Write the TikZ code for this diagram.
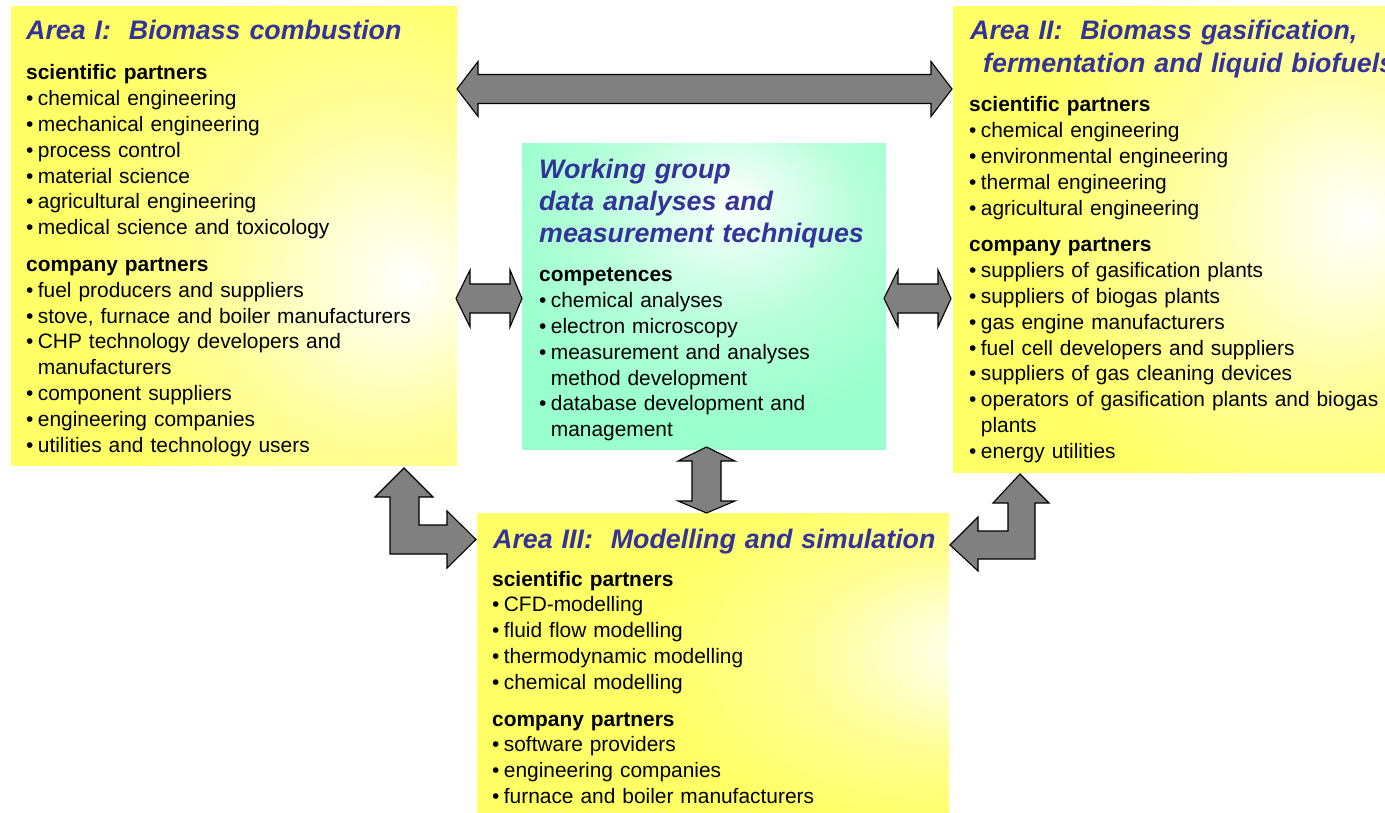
\documentclass[tikz,border=0pt]{standalone}
\usepackage{fontspec}
\setmainfont{Liberation Sans}
\definecolor{yel}{HTML}{FFFF66}
\definecolor{aqua}{HTML}{99FFCC}
\definecolor{titleblue}{HTML}{333399}
\definecolor{arrgray}{HTML}{808080}
\newcommand\bitem{•\hspace{4.4pt}}
\newcommand\bindent{\hphantom{•}\hspace{4.4pt}}
\pgfdeclareradialshading{glowI}{\pgfpoint{20bp}{-5bp}}{color(0bp)=(white); color(6bp)=(white!80!yel); color(18bp)=(white!35!yel); color(32bp)=(yel); color(100bp)=(yel)}
\pgfdeclareradialshading{glowII}{\pgfpoint{22bp}{2bp}}{color(0bp)=(white); color(6bp)=(white!80!yel); color(18bp)=(white!35!yel); color(32bp)=(yel); color(100bp)=(yel)}
\pgfdeclareradialshading{glowC}{\pgfpoint{4bp}{16bp}}{color(0bp)=(white); color(6bp)=(white!75!aqua); color(18bp)=(white!30!aqua); color(32bp)=(aqua); color(100bp)=(aqua)}
\pgfdeclareradialshading{glowIII}{\pgfpoint{30bp}{2bp}}{color(0bp)=(white); color(6bp)=(white!75!yel); color(16bp)=(white!30!yel); color(28bp)=(yel); color(100bp)=(yel)}
\begin{document}
\begin{tikzpicture}[x={(1pt,0)},y={(0,-1pt)},
  area/.style={shade, inner sep=0pt, outer sep=0pt, draw=none},
  ttl/.style={anchor=base west, inner sep=0pt, text=titleblue, align=left, text width=#1,
    font=\fontsize{26.8}{32}\selectfont\bfseries\itshape},
  body/.style={anchor=base west, inner sep=0pt, text=black, align=left, text width=#1,
    font=\fontsize{20.9}{25.8}\selectfont},
  blockarrow/.style={fill=arrgray, draw=black, line width=1.1pt, line join=miter}]
\clip (0,0) rectangle (1385,813);
\fill[white] (0,0) rectangle (1385,813);
% boxes
\node[area, shading=glowI, minimum width=446pt, minimum height=458pt] (areaI) at (234,236) {};
\node[area, shading=glowII, minimum width=437pt, minimum height=465pt] (areaII) at (1171.5,239.5) {};
\node[area, shading=glowC, minimum width=364pt, minimum height=305pt] (wg) at (704,296.5) {};
\node[area, shading=glowIII, minimum width=472pt, minimum height=303pt] (areaIII) at (713,664.5) {};
% Area I
\node[ttl=440pt] (tI) at (26,40) {Area I:\ \ Biomass combustion};
\node[body=430pt] (bI) at (26,80) {\textbf{scientific partners}\\
\bitem chemical engineering\\
\bitem mechanical engineering\\
\bitem process control\\
\bitem material science\\
\bitem agricultural engineering\\
\bitem medical science and toxicology\\[11pt]
\textbf{company partners}\\
\bitem fuel producers and suppliers\\
\bitem stove, furnace and boiler manufacturers\\
\bitem CHP technology developers and\\
\bindent manufacturers\\
\bitem component suppliers\\
\bitem engineering companies\\
\bitem utilities and technology users};
% Area II
\node[ttl=500pt, font=\fontsize{26.8}{33}\selectfont\bfseries\itshape] (tII) at (970,40) {Area II:\ \ Biomass gasification,\\
\hspace*{13pt}fermentation and liquid biofuels};
\node[body=500pt] (bII) at (969,112) {\textbf{scientific partners}\\
\bitem chemical engineering\\
\bitem environmental engineering\\
\bitem thermal engineering\\
\bitem agricultural engineering\\[11pt]
\textbf{company partners}\\
\bitem suppliers of gasification plants\\
\bitem suppliers of biogas plants\\
\bitem gas engine manufacturers\\
\bitem fuel cell developers and suppliers\\
\bitem suppliers of gas cleaning devices\\
\bitem operators of gasification plants and biogas\\
\bindent plants\\
\bitem energy utilities};
% Working group
\node[ttl=360pt] (tC) at (539,179) {Working group\\
data analyses and\\
measurement techniques};
\node[body=340pt] (bC) at (539,282) {\textbf{competences}\\
\bitem chemical analyses\\
\bitem electron microscopy\\
\bitem measurement and analyses\\
\bindent method development\\
\bitem database development and\\
\bindent management};
% Area III
\node[ttl=460pt] (tIII) at (493,548) {Area III:\ \ Modelling and simulation};
\node[body=450pt] (bIII) at (492,586) {\textbf{scientific partners}\\
\bitem CFD-modelling\\
\bitem fluid flow modelling\\
\bitem thermodynamic modelling\\
\bitem chemical modelling\\[11pt]
\textbf{company partners}\\
\bitem software providers\\
\bitem engineering companies\\
\bitem furnace and boiler manufacturers};
% block arrows
\draw[blockarrow] (457,89) -- (478,61.5) -- (478,74.5) -- (931,74.5) -- (931,61.5) -- (952,89)
  -- (931,116.5) -- (931,103.5) -- (478,103.5) -- (478,116.5) -- cycle;
\draw[blockarrow] (456,298.5) -- (470,270) -- (470,284) -- (510,284) -- (510,270) -- (522,298.5)
  -- (510,327) -- (510,313) -- (470,313) -- (470,327) -- cycle;
\draw[blockarrow] (884,298.5) -- (898,270) -- (898,284) -- (938,284) -- (938,270) -- (951,298.5)
  -- (938,327) -- (938,313) -- (898,313) -- (898,327) -- cycle;
\draw[blockarrow] (706.5,447) -- (735,461) -- (721,461) -- (721,501) -- (735,501) -- (706.5,513)
  -- (678,501) -- (692,501) -- (692,461) -- (678,461) -- cycle;
\draw[blockarrow] (404,468) -- (433,497) -- (419,497) -- (419,525) -- (447,525) -- (447,511)
  -- (476,539.5) -- (447,568) -- (447,554) -- (390,554) -- (390,497) -- (375,497) -- cycle;
\draw[blockarrow] (1020,474) -- (1049,503) -- (1035,503) -- (1035,559) -- (978,559) -- (978,571)
  -- (950,545) -- (978,517) -- (978,531) -- (1008,531) -- (1008,503) -- (993,503) -- cycle;
\end{tikzpicture}
\end{document}
